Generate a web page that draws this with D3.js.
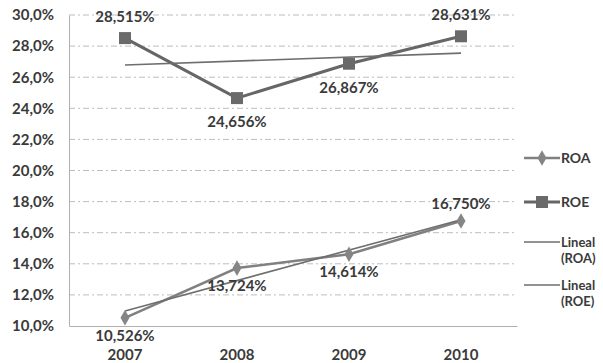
<!DOCTYPE html>
<html><head><meta charset="utf-8">
<script src="https://cdn.jsdelivr.net/npm/d3@7"></script>
<style>
body{margin:0;background:#fff;}
text{font-family:Lato,"Open Sans",sans-serif;font-weight:700;fill:#3a3a3a;}
</style></head>
<body><svg id="c" width="603" height="363"></svg>
<script>
const years = ["2007","2008","2009","2010"];
const roa = [10.526, 13.724, 14.614, 16.750];
const roe = [28.515, 24.656, 26.867, 28.631];
const yTicks = [10,12,14,16,18,20,22,24,26,28,30];
// label placement for each point: above or below
const roaPos = ["below","below","below","above"];
const roePos = ["above","below","below","above"];

const svg = d3.select("#c");
const L = 69, R = 517, T = 15, B = 326;
const FS = "15px";
const x = d3.scaleBand().domain(years).range([L, R]);
const y = d3.scaleLinear().domain([10, 30]).range([B, T]);
const cx = d => x(d) + x.bandwidth()/2;
const fmt = v => d3.format(".1f")(v).replace(".", ",") + "%";
const fmt3 = v => d3.format(".3f")(v).replace(".", ",") + "%";

// gridlines
svg.append("g").selectAll("line").data(yTicks.filter(t => t > 10)).join("line")
  .attr("x1", L).attr("x2", R).attr("y1", d => y(d)).attr("y2", d => y(d))
  .attr("stroke", "#bdbdbd").attr("stroke-width", 1).attr("stroke-dasharray", "6,3,2,3");

// axes
const yAxis = d3.axisLeft(y).tickValues(yTicks).tickFormat(fmt).tickSize(0).tickPadding(15);
const gy = svg.append("g").attr("transform", `translate(${L},0)`).call(yAxis);
gy.select(".domain").attr("stroke", "#b0b0b0");
gy.selectAll("text").style("font-size", FS).style("fill", "#3a3a3a").style("font-family", "Lato");

const xAxis = d3.axisBottom(x).tickSize(0).tickPadding(23);
const gx = svg.append("g").attr("transform", `translate(0,${B})`).call(xAxis);
gx.select(".domain").attr("stroke", "#b0b0b0");
gx.selectAll("text").style("font-size", FS).style("fill", "#3a3a3a").style("font-family", "Lato");

// least-squares trend
function trend(vals){
  const n = vals.length, xs = vals.map((_, i) => i);
  const mx = d3.mean(xs), my = d3.mean(vals);
  const b = d3.sum(xs, (xi, i) => (xi - mx) * (vals[i] - my)) / d3.sum(xs, xi => (xi - mx) ** 2);
  const a = my - b * mx;
  return [a, a + b * (n - 1)];
}
const line = d3.line().x((d, i) => cx(years[i])).y(d => y(d));

// data series
svg.append("path").datum(roe).attr("d", line).attr("fill", "none")
  .attr("stroke", "#666").attr("stroke-width", 3);
svg.append("path").datum(roa).attr("d", line).attr("fill", "none")
  .attr("stroke", "#808080").attr("stroke-width", 2.5);

// trend lines
[roa, roe].forEach(vals => {
  const [a, b] = trend(vals);
  svg.append("line").attr("x1", cx(years[0])).attr("x2", cx(years[3]))
    .attr("y1", y(a)).attr("y2", y(b)).attr("stroke", "#6e6e6e").attr("stroke-width", 1.6);
});

// markers
svg.append("g").selectAll("rect").data(roe).join("rect")
  .attr("x", (d, i) => cx(years[i]) - 6).attr("y", d => y(d) - 6)
  .attr("width", 12).attr("height", 12).attr("fill", "#6a6a6a");
const diamond = d3.symbol().type(d3.symbolDiamond).size(70);
svg.append("g").selectAll("path").data(roa).join("path")
  .attr("d", diamond).attr("transform", (d, i) => `translate(${cx(years[i])},${y(d)})`)
  .attr("fill", "#858585");

// value labels
function labels(vals, pos, offUp, offDown){
  svg.append("g").selectAll("text").data(vals).join("text")
    .attr("x", (d, i) => cx(years[i]))
    .attr("y", (d, i) => y(d) + (pos[i] === "above" ? -offUp : offDown))
    .attr("text-anchor", "middle").style("font-size", FS).text(fmt3);
}
labels(roe, roePos, 16, 29);
labels(roa, roaPos, 12, 23);

// legend
const lg = svg.append("g");
const lx1 = 524, lx2 = 560;
lg.append("line").attr("x1", lx1).attr("x2", lx2).attr("y1", 158).attr("y2", 158).attr("stroke", "#808080").attr("stroke-width", 2.5);
lg.append("path").attr("d", diamond).attr("transform", `translate(${(lx1+lx2)/2},158)`).attr("fill", "#858585");
lg.append("text").attr("x", 561).attr("y", 163).style("font-size", "14px").text("ROA");
lg.append("line").attr("x1", lx1).attr("x2", lx2).attr("y1", 202).attr("y2", 202).attr("stroke", "#666").attr("stroke-width", 3);
lg.append("rect").attr("x", (lx1+lx2)/2 - 6).attr("y", 196).attr("width", 12).attr("height", 12).attr("fill", "#6a6a6a");
lg.append("text").attr("x", 561).attr("y", 207).style("font-size", "14px").text("ROE");
[["(ROA)", 242], ["(ROE)", 285]].forEach(([s, yy]) => {
  lg.append("line").attr("x1", lx1).attr("x2", lx2).attr("y1", yy).attr("y2", yy).attr("stroke", "#6e6e6e").attr("stroke-width", 1.6);
  const t = lg.append("text").attr("x", 561).attr("y", yy + 5).style("font-size", "13px");
  t.append("tspan").attr("x", 561).text("Lineal");
  t.append("tspan").attr("x", 561).attr("dy", 16).text(s);
});
</script></body></html>
